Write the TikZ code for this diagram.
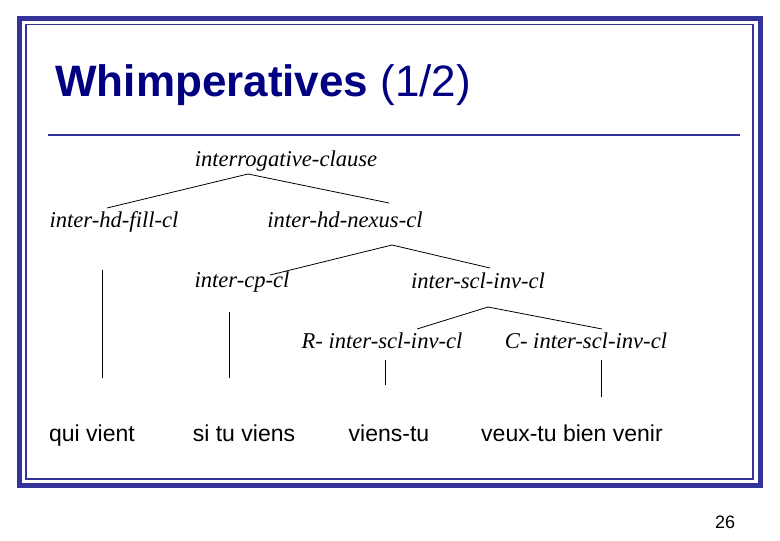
\documentclass[tikz,border=0pt]{standalone}
\usepackage{fontspec}
\setmainfont{Liberation Serif}
\setsansfont{Liberation Sans}
\definecolor{framecol}{RGB}{51,51,153}
\definecolor{titlecol}{RGB}{0,0,128}

\begin{document}
\begin{tikzpicture}[x=0.5pt, y=-0.5pt,
    cat/.style={inner sep=0pt, anchor=base, font=\fontsize{11.3}{13}\selectfont\itshape},
    word/.style={inner sep=0pt, anchor=base, font=\fontsize{11.5}{14}\selectfont\sffamily}]
    \useasboundingbox (0,0) rectangle (780,540);
    % frame and title
    \draw[framecol, line width=2.75pt] (19.5,18.5) rectangle (760.5,485.5);
    \draw[framecol, line width=0.6pt] (26,24.5) rectangle (753,479);
    \node[anchor=base west, inner sep=0pt, text=titlecol, font=\fontsize{22}{26}\selectfont\sffamily] (title) at (55,97)
        {\textbf{Whimperatives} (1/2)};
    \draw[framecol, line width=1pt] (48,135) -- (740,135);
    % categories
    \node[cat] (ic) at (286,166) {interrogative-clause};
    \node[cat] (hdfill) at (114,227) {inter-hd-fill-cl};
    \node[cat] (hdnexus) at (345,227) {inter-hd-nexus-cl};
    \node[cat] (cp) at (242,287) {inter-cp-cl};
    \node[cat] (sclinv) at (478,288) {inter-scl-inv-cl};
    \node[cat] (rinv) at (382,348) {R- inter-scl-inv-cl};
    \node[cat] (cinv) at (586,348) {C- inter-scl-inv-cl};
    % examples
    \node[word] (quivient) at (92,441) {qui vient};
    \node[word] (situ) at (244,441) {si tu viens};
    \node[word] (vienstu) at (389,441) {viens-tu};
    \node[word] (veuxtu) at (572,441) {veux-tu bien venir};
    \node[inner sep=0pt, anchor=base, font=\fontsize{9}{11}\selectfont\sffamily] (page) at (725,528) {26};
    % branch ends
    \coordinate (ic-foot) at (248,174);
    \coordinate (hdfill-top) at (107,208);
    \coordinate (hdnexus-top) at (389,203);
    \coordinate (hdnexus-foot) at (392,245);
    \coordinate (cp-top) at (270,275);
    \coordinate (sclinv-top) at (490,268);
    \coordinate (sclinv-foot) at (488,307);
    \coordinate (rinv-top) at (417,329);
    \coordinate (cinv-top) at (602,329);
    \draw (ic-foot) -- (hdfill-top);
    \draw (ic-foot) -- (hdnexus-top);
    \draw (hdnexus-foot) -- (cp-top);
    \draw (hdnexus-foot) -- (sclinv-top);
    \draw (sclinv-foot) -- (rinv-top);
    \draw (sclinv-foot) -- (cinv-top);
    % unary lines
    \coordinate (quivient-top) at (102,270);
    \coordinate (quivient-foot) at (102,378);
    \coordinate (situ-top) at (229,312);
    \coordinate (situ-foot) at (229,378);
    \coordinate (rinv-foot) at (385,360);
    \coordinate (vienstu-top) at (385,385);
    \coordinate (cinv-foot) at (601,360);
    \coordinate (veuxtu-top) at (601,397);
    \draw (quivient-top) -- (quivient-foot);
    \draw (situ-top) -- (situ-foot);
    \draw (rinv-foot) -- (vienstu-top);
    \draw (cinv-foot) -- (veuxtu-top);
\end{tikzpicture}
\end{document}
